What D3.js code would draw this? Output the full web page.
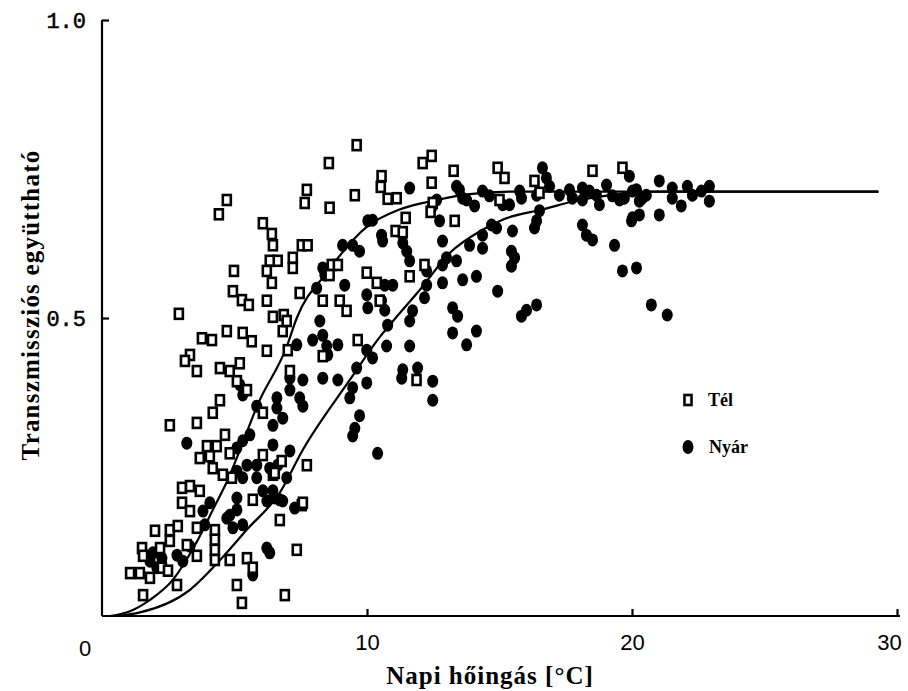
<!DOCTYPE html>
<html>
<head>
<meta charset="utf-8">
<script src="https://cdn.jsdelivr.net/npm/d3@7"></script>
<style>
  body { margin: 0; background: #fff; }
  .axis path, .axis line { stroke: #000; stroke-width: 2.2; }
  .ytick text { font-family: "Liberation Mono", monospace; font-size: 22px; stroke: #000; stroke-width: 0.5; }
  .xtick text { font-family: "Liberation Sans", sans-serif; font-size: 22px; }
  .title { font-family: "Liberation Serif", serif; font-weight: bold; }
</style>
</head>
<body>
<svg width="908" height="691"></svg>
<script>
// Tél (winter) measurements: [napi hőingás, transzmissziós együttható]
var telPoints = [
  [4.71,0.698],[4.41,0.674],[6.07,0.659],[6.41,0.641],[6.45,0.622],[6.63,0.596],[6.33,0.596],
  [4.98,0.579],[6.22,0.579],[6.41,0.559],[4.94,0.545],[5.28,0.530],[5.54,0.522],[6.22,0.529],
  [6.45,0.502],[6.86,0.505],[2.90,0.507],[9.61,0.790],[8.56,0.760],[7.73,0.715],[7.65,0.693],
  [9.54,0.706],[8.59,0.685],[10.55,0.738],[10.52,0.720],[10.78,0.700],[11.12,0.701],[12.10,0.760],
  [12.44,0.772],[12.44,0.727],[13.27,0.747],[13.31,0.663],[11.46,0.668],[11.08,0.646],[11.35,0.644],
  [12.48,0.693],[12.40,0.678],[7.20,0.601],[7.20,0.584],[7.54,0.622],[7.76,0.622],[8.67,0.589],
  [8.90,0.589],[8.59,0.572],[9.99,0.576],[10.37,0.559],[11.61,0.570],[12.17,0.589],[7.46,0.542],
  [8.33,0.529],[8.97,0.529],[9.23,0.512],[10.48,0.529],[14.93,0.752],[15.19,0.735],[16.32,0.730],
  [16.51,0.710],[15.00,0.698],[18.51,0.747],[19.64,0.752],[4.71,0.478],[5.31,0.475],[5.65,0.461],
  [3.77,0.466],[4.15,0.463],[6.22,0.445],[3.32,0.438],[3.13,0.428],[3.58,0.411],[4.45,0.416],
  [4.82,0.411],[5.20,0.424],[5.09,0.394],[5.47,0.379],[4.45,0.362],[4.18,0.341],[2.56,0.320],
  [3.58,0.324],[4.64,0.304],[3.96,0.285],[4.33,0.285],[3.69,0.265],[4.07,0.268],[4.82,0.273],
  [4.18,0.248],[4.56,0.237],[4.90,0.232],[6.07,0.341],[6.78,0.260],[6.07,0.270],[6.45,0.237],
  [5.69,0.195],[3.02,0.215],[3.32,0.218],[3.69,0.210],[3.02,0.190],[3.32,0.176],[6.82,0.478],
  [6.97,0.495],[2.00,0.143],[2.56,0.144],[2.86,0.151],[2.56,0.126],[1.51,0.114],[1.55,0.101],
  [2.19,0.114],[3.20,0.119],[3.58,0.148],[3.58,0.101],[4.26,0.144],[4.26,0.128],[4.26,0.111],
  [4.26,0.094],[1.06,0.072],[1.43,0.072],[2.26,0.081],[2.49,0.076],[1.81,0.064],[1.55,0.035],
  [2.83,0.052],[6.71,0.161],[5.47,0.097],[5.69,0.081],[5.09,0.052],[5.28,0.022],[6.90,0.035],
  [4.82,0.094],[7.54,0.186],[7.35,0.111],[9.65,0.463],[7.01,0.446],[7.09,0.411],[8.33,0.436],
  [11.87,0.396],[7.73,0.253],[7.58,0.190],[6.52,0.240]
];

// Nyár (summer) measurements
var nyarPoints = [
  [11.61,0.718],[10.03,0.663],[10.21,0.664],[10.55,0.639],[10.59,0.629],[11.35,0.626],[11.50,0.612],
  [11.61,0.596],[9.08,0.622],[9.46,0.622],[9.72,0.612],[8.33,0.584],[8.41,0.572],[9.16,0.555],
  [10.67,0.555],[10.97,0.555],[9.99,0.539],[10.03,0.517],[10.55,0.529],[10.67,0.513],[11.72,0.512],
  [11.61,0.495],[13.00,0.601],[12.85,0.589],[13.38,0.596],[12.25,0.579],[12.25,0.555],[12.85,0.559],
  [13.61,0.564],[13.23,0.517],[13.42,0.503],[12.44,0.685],[12.63,0.698],[13.49,0.715],[13.61,0.701],
  [12.74,0.663],[12.85,0.629],[8.22,0.495],[8.10,0.550],[8.33,0.471],[7.95,0.463],[8.48,0.453],
  [8.90,0.455],[8.52,0.438],[9.99,0.446],[10.21,0.433],[10.74,0.453],[10.78,0.488],[11.61,0.453],
  [13.23,0.475],[13.76,0.455],[11.35,0.413],[11.31,0.399],[11.91,0.416],[12.48,0.394],[12.48,0.362],
  [8.33,0.399],[8.90,0.396],[9.61,0.416],[9.46,0.383],[9.99,0.391],[9.35,0.366],[9.72,0.336],
  [9.54,0.315],[9.46,0.302],[10.40,0.273],[6.60,0.366],[6.60,0.349],[6.82,0.332],[6.45,0.320],
  [7.46,0.366],[7.58,0.352],[7.09,0.379],[7.58,0.396],[6.45,0.287],[7.09,0.277],[6.63,0.253],
  [6.97,0.232],[6.45,0.210],[6.71,0.195],[7.27,0.181],[7.09,0.399],[7.35,0.455],[14.13,0.478],
  [16.02,0.513],[16.40,0.522],[15.83,0.503],[12.17,0.534],[16.62,0.752],[16.77,0.735],[16.89,0.721],
  [13.38,0.721],[13.76,0.698],[14.06,0.688],[14.36,0.713],[14.62,0.705],[15.12,0.690],[15.38,0.690],
  [15.76,0.713],[15.83,0.701],[16.40,0.706],[16.32,0.651],[16.40,0.663],[16.51,0.680],[17.26,0.706],
  [17.64,0.715],[17.75,0.701],[18.13,0.718],[18.13,0.698],[18.39,0.713],[18.66,0.706],[18.77,0.690],
  [19.04,0.723],[19.26,0.705],[19.53,0.698],[19.90,0.738],[20.17,0.715],[20.39,0.701],[19.98,0.663],
  [20.28,0.673],[18.13,0.656],[18.28,0.639],[18.51,0.631],[19.34,0.622],[14.70,0.656],[14.89,0.651],
  [14.36,0.639],[13.87,0.622],[14.36,0.617],[15.49,0.646],[15.45,0.612],[15.57,0.601],[15.45,0.587],
  [14.13,0.570],[14.93,0.545],[19.64,0.579],[20.17,0.584],[20.02,0.713],[19.71,0.701],[20.28,0.696],
  [20.54,0.706],[20.02,0.668],[21.03,0.730],[21.03,0.673],[21.52,0.718],[21.52,0.701],[21.86,0.688],
  [22.09,0.721],[22.28,0.706],[22.62,0.713],[22.92,0.721],[22.92,0.696],[20.73,0.522],[21.33,0.505],
  [3.20,0.290],[5.84,0.352],[5.58,0.304],[5.31,0.294],[5.09,0.282],[5.47,0.253],[5.84,0.253],
  [5.09,0.243],[5.31,0.232],[6.33,0.248],[5.20,0.388],[5.31,0.371],[5.09,0.198],[4.07,0.190],
  [3.81,0.176],[4.82,0.169],[6.07,0.210],[5.09,0.178],[4.71,0.164],[5.31,0.153],[4.94,0.148],
  [3.88,0.153],[1.92,0.106],[1.81,0.092],[2.26,0.097],[2.83,0.102],[2.07,0.081],[3.05,0.092],
  [3.32,0.117],[6.22,0.114],[6.33,0.106],[5.69,0.069],[5.84,0.232],[6.22,0.193],[6.52,0.198],
  [6.82,0.193]
];

// fitted curves
var telCurve = [
  [0.3,0],[1.06,0.008],[1.81,0.027],[2.68,0.061],[3.51,0.119],[4.18,0.178],[4.75,0.229],
  [5.47,0.309],[5.84,0.351],[6.97,0.452],[7.35,0.50],[8.48,0.576],[9.99,0.653],[11.23,0.682],
  [12.63,0.698],[13.87,0.708],[15.5,0.712],[29.3,0.712]
];
var nyarCurve = [
  [0.6,0],[1.43,0.006],[3.32,0.044],[4.56,0.099],[5.47,0.145],[6.71,0.207],[7.58,0.279],
  [9.35,0.396],[10.48,0.468],[11.12,0.502],[11.99,0.547],[13.12,0.609],[14.36,0.648],
  [15.12,0.665],[16.62,0.682],[18.02,0.698],[19.52,0.708],[21,0.712],[29.3,0.712]
];

var xTicks = [10, 20, 30];
var yTicks = [0.5, 1.0];

var svg = d3.select("svg");

var x = d3.scaleLinear().domain([0, 30]).range([102, 897]);
var y = d3.scaleLinear().domain([0, 1]).range([616, 20]);

// axes (ticks point inwards)
svg.append("g")
    .attr("class", "axis xtick")
    .attr("transform", "translate(0," + y(0) + ")")
    .call(d3.axisBottom(x).tickValues(xTicks).tickSizeInner(-7).tickSizeOuter(0).tickPadding(18))
    .call(function (g) { g.select(".domain").attr("d", "M" + x(0) + ",0H" + (x(30) + 3)); });

svg.append("g")
    .attr("class", "axis ytick")
    .attr("transform", "translate(" + x(0) + ",0)")
    .call(d3.axisLeft(y).tickValues(yTicks).tickFormat(d3.format(".1f")).tickSizeInner(-7).tickSizeOuter(0).tickPadding(16))
    .call(function (g) { g.select(".domain").attr("d", "M0," + y(0) + "V" + y(1)); });

svg.select(".xtick").selectAll("text").attr("fill", "#000")
    .attr("dx", function (d) { return d === 30 ? -8 : 0; });
svg.select(".ytick").selectAll("text").attr("fill", "#000");

// origin label
svg.append("text")
    .attr("x", 85).attr("y", 656)
    .attr("text-anchor", "middle")
    .style("font-family", "Liberation Sans, sans-serif")
    .style("font-size", "22px")
    .text("0");

// curves
var line = d3.line()
    .x(function (d) { return x(d[0]); })
    .y(function (d) { return y(d[1]); })
    .curve(d3.curveMonotoneX);

svg.append("path").datum(telCurve)
    .attr("fill", "none").attr("stroke", "#000").attr("stroke-width", 2.2)
    .attr("d", line);
svg.append("path").datum(nyarCurve)
    .attr("fill", "none").attr("stroke", "#000").attr("stroke-width", 2.2)
    .attr("d", line);

// points
svg.append("g")
    .selectAll("ellipse")
    .data(nyarPoints)
    .enter().append("ellipse")
        .attr("cx", function (d) { return x(d[0]); })
        .attr("cy", function (d) { return y(d[1]); })
        .attr("rx", 5.5)
        .attr("ry", 6.5)
        .attr("fill", "#000");

svg.append("g")
    .selectAll("rect")
    .data(telPoints)
    .enter().append("rect")
        .attr("x", function (d) { return x(d[0]) - 4; })
        .attr("y", function (d) { return y(d[1]) - 5; })
        .attr("width", 8)
        .attr("height", 10)
        .attr("fill", "#fff")
        .attr("stroke", "#000")
        .attr("stroke-width", 2.6);

// legend
var legend = svg.append("g").attr("transform", "translate(688,400)");
legend.append("rect")
    .attr("x", -3.5).attr("y", -5).attr("width", 7).attr("height", 10)
    .attr("fill", "#fff").attr("stroke", "#000").attr("stroke-width", 2.6);
legend.append("text")
    .attr("class", "title")
    .attr("x", 20).attr("y", 6)
    .style("font-size", "18px")
    .text("Tél");
legend.append("ellipse")
    .attr("cx", 0).attr("cy", 47).attr("rx", 5.5).attr("ry", 7)
    .attr("fill", "#000");
legend.append("text")
    .attr("class", "title")
    .attr("x", 21).attr("y", 53)
    .style("font-size", "18px")
    .text("Nyár");

// axis titles
svg.append("text")
    .attr("class", "title")
    .attr("x", 490).attr("y", 684)
    .attr("text-anchor", "middle")
    .style("font-size", "25px")
    .style("letter-spacing", "1px")
    .text("Napi hőingás [°C]");

svg.append("text")
    .attr("class", "title")
    .attr("transform", "translate(39,305) rotate(-90)")
    .attr("text-anchor", "middle")
    .style("font-size", "25px")
    .style("letter-spacing", "1.2px")
    .text("Transzmissziós együttható");
</script>
</body>
</html>
